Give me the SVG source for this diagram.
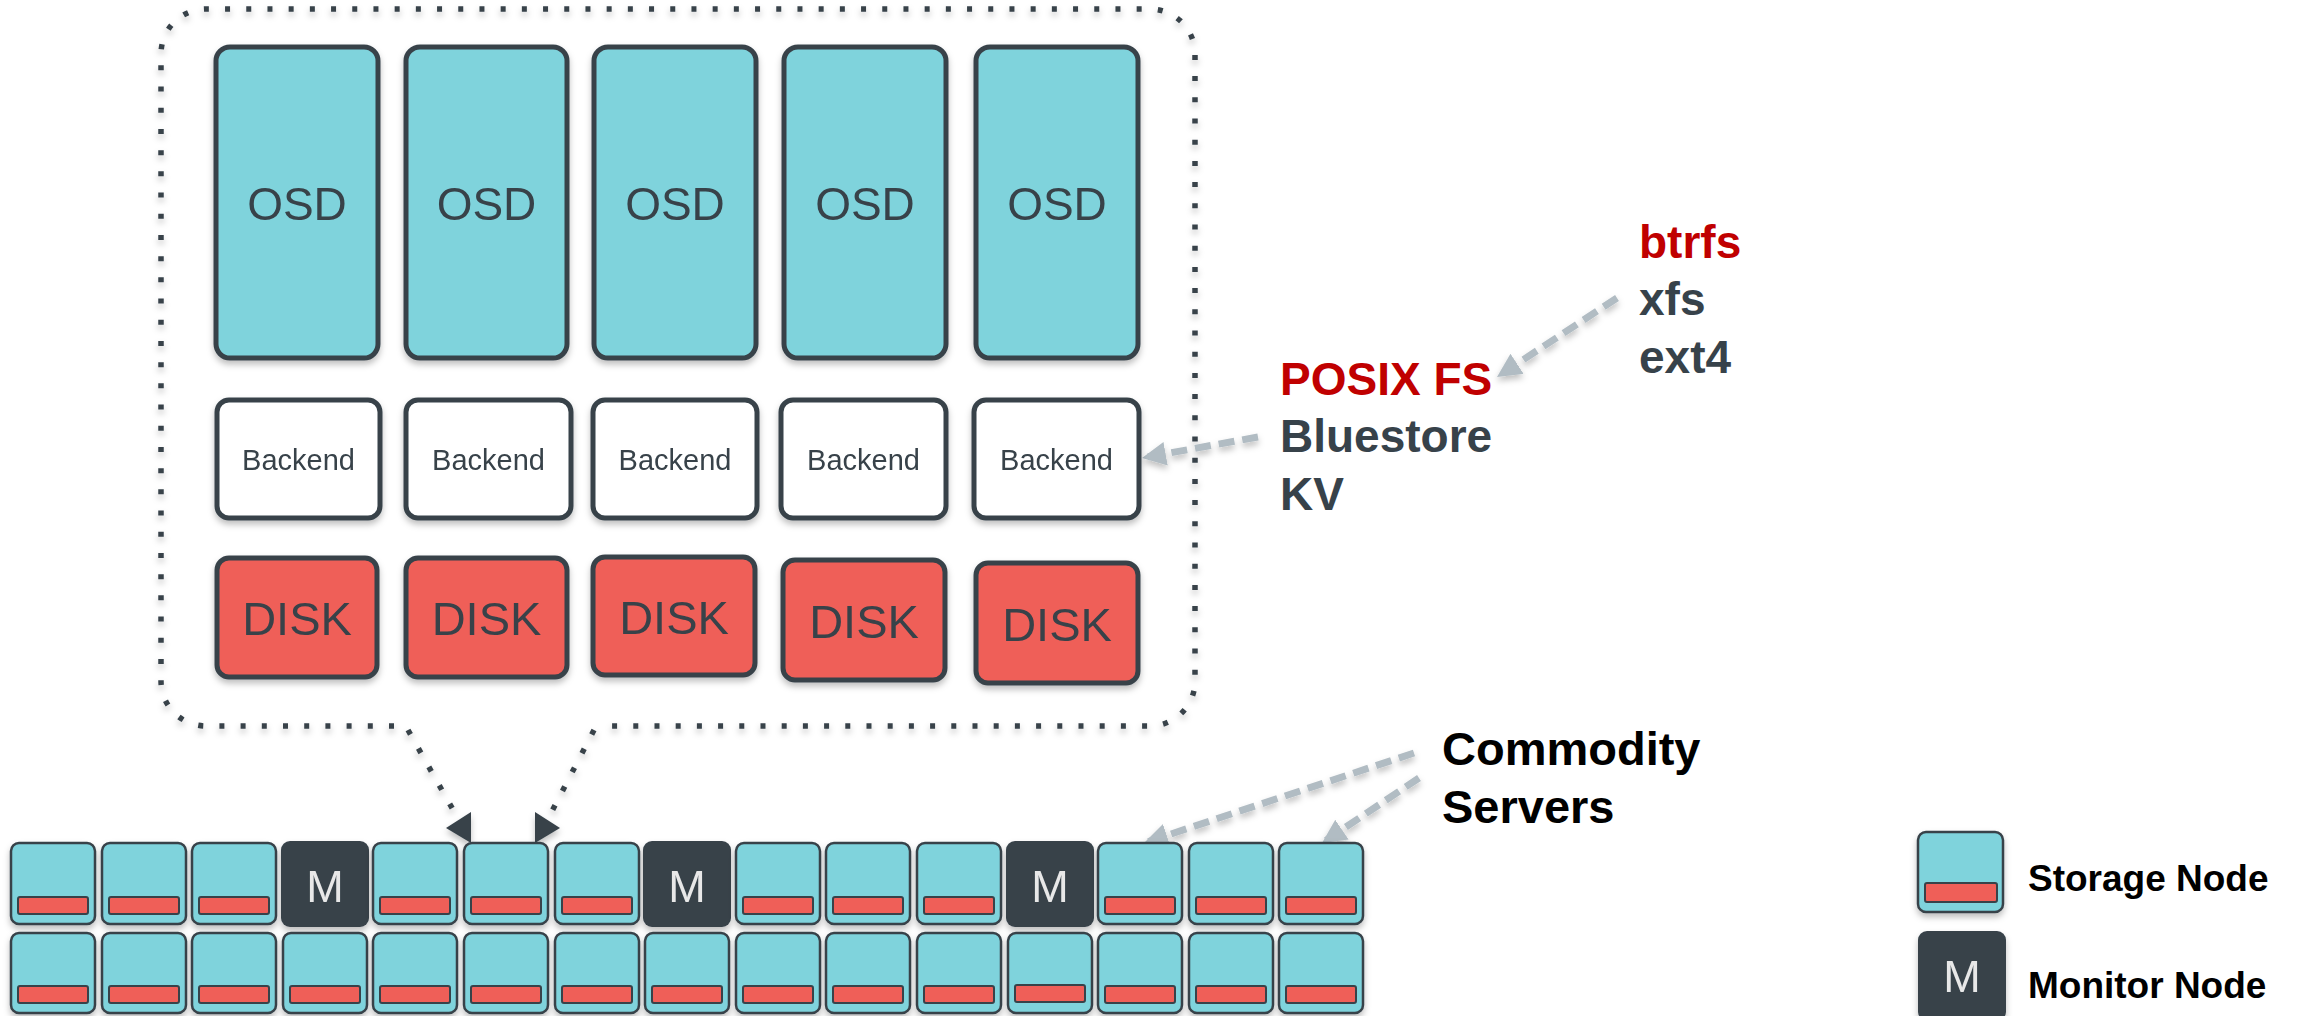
<svg xmlns="http://www.w3.org/2000/svg" width="2300" height="1016" viewBox="0 0 2300 1016">
  <defs>
    <filter id="shadow" x="-10%" y="-10%" width="120%" height="130%">
      <feDropShadow dx="0" dy="4" stdDeviation="3" flood-color="#000" flood-opacity="0.25"/>
    </filter>
    <marker id="grayHead" markerUnits="userSpaceOnUse" markerWidth="26" markerHeight="26" refX="24" refY="12" orient="auto">
      <path d="M0,0 L24,12 L0,24 z" fill="#B1BCC3"/>
    </marker>
    <style>
      .osd { fill: #7FD3DC; stroke: #37424A; stroke-width: 5; }
      .backend { fill: #FFFFFF; stroke: #37424A; stroke-width: 5; }
      .disk { fill: #EF5E58; stroke: #37424A; stroke-width: 5; }
      .lbl { font-family: "Liberation Sans", Arial, sans-serif; fill: #37424A; text-anchor: middle; }
      .osd-t { font-size: 46px; }
      .be-t { font-size: 29px; }
      .disk-t { font-size: 47px; }
      .sn { fill: #7FD3DC; stroke: #37424A; stroke-width: 2.5; }
      .bar { fill: #EF5E58; stroke: #37424A; stroke-width: 2; }
      .mn { fill: #37424A; }
      .m-t { font-family: "Liberation Sans", Arial, sans-serif; font-size: 45px; fill: #E8E8E8; text-anchor: middle; }
      .bold { font-family: "Liberation Sans", Arial, sans-serif; font-weight: bold; }
      .red { fill: #C00000; }
      .dark { fill: #37424A; }
      .black { fill: #000000; }
      .dotted { fill: none; stroke: #37424A; stroke-width: 5.5; stroke-dasharray: 5 16.2; }
      .gray-arrow { fill: none; stroke: #B1BCC3; stroke-width: 7; stroke-dasharray: 16 8; marker-end: url(#grayHead); }
    </style>
  </defs>

  <rect width="2300" height="1016" fill="#FFFFFF"/>

  <!-- callout outline around the OSD stack, open at the bottom -->
  <g id="connectors" filter="url(#shadow)">
    <path class="dotted" d="M394,726 L206,726 A45,45 0 0 1 161,681 L161,54 A45,45 0 0 1 206,9 L1150,9 A45,45 0 0 1 1195,54 L1195,681 A45,45 0 0 1 1150,726 L606,726"/>
    <path class="dotted" d="M408,730 L456,815"/>
    <path class="dotted" d="M594,730 L550,815"/>
    <polygon points="446,828 471,812 471,843" fill="#37424A"/>
    <polygon points="535,812 560,828 535,843" fill="#37424A"/>

    <line class="gray-arrow" x1="1617" y1="298" x2="1497" y2="377"/>
    <line class="gray-arrow" x1="1258" y1="437" x2="1142" y2="458"/>
    <line class="gray-arrow" x1="1414" y1="753" x2="1144" y2="843"/>
    <line class="gray-arrow" x1="1419" y1="778" x2="1322" y2="843"/>
  </g>

  <!-- OSD daemons -->
  <g id="osd1" filter="url(#shadow)"><rect class="osd" x="216" y="47" width="162" height="311" rx="14"/><text class="lbl osd-t" x="297" y="220">OSD</text></g>
  <g id="osd2" filter="url(#shadow)"><rect class="osd" x="406" y="47" width="161" height="311" rx="14"/><text class="lbl osd-t" x="486.5" y="220">OSD</text></g>
  <g id="osd3" filter="url(#shadow)"><rect class="osd" x="594" y="47" width="162" height="311" rx="14"/><text class="lbl osd-t" x="675" y="220">OSD</text></g>
  <g id="osd4" filter="url(#shadow)"><rect class="osd" x="784" y="47" width="162" height="311" rx="14"/><text class="lbl osd-t" x="865" y="220">OSD</text></g>
  <g id="osd5" filter="url(#shadow)"><rect class="osd" x="976" y="47" width="162" height="311" rx="14"/><text class="lbl osd-t" x="1057" y="220">OSD</text></g>

  <!-- storage backends -->
  <g id="backend1" filter="url(#shadow)"><rect class="backend" x="217" y="400" width="163" height="118" rx="12"/><text class="lbl be-t" x="298.5" y="470">Backend</text></g>
  <g id="backend2" filter="url(#shadow)"><rect class="backend" x="406" y="400" width="165" height="118" rx="12"/><text class="lbl be-t" x="488.5" y="470">Backend</text></g>
  <g id="backend3" filter="url(#shadow)"><rect class="backend" x="593" y="400" width="164" height="118" rx="12"/><text class="lbl be-t" x="675" y="470">Backend</text></g>
  <g id="backend4" filter="url(#shadow)"><rect class="backend" x="781" y="400" width="165" height="118" rx="12"/><text class="lbl be-t" x="863.5" y="470">Backend</text></g>
  <g id="backend5" filter="url(#shadow)"><rect class="backend" x="974" y="400" width="165" height="118" rx="12"/><text class="lbl be-t" x="1056.5" y="470">Backend</text></g>

  <!-- disks -->
  <g id="disk1" filter="url(#shadow)"><rect class="disk" x="217" y="558" width="160" height="119" rx="12"/><text class="lbl disk-t" x="297" y="635">DISK</text></g>
  <g id="disk2" filter="url(#shadow)"><rect class="disk" x="406" y="558" width="161" height="119" rx="12"/><text class="lbl disk-t" x="486.5" y="635">DISK</text></g>
  <g id="disk3" filter="url(#shadow)"><rect class="disk" x="593" y="557" width="162" height="118" rx="12"/><text class="lbl disk-t" x="674" y="634">DISK</text></g>
  <g id="disk4" filter="url(#shadow)"><rect class="disk" x="783" y="560" width="162" height="120" rx="12"/><text class="lbl disk-t" x="864" y="638">DISK</text></g>
  <g id="disk5" filter="url(#shadow)"><rect class="disk" x="976" y="563" width="162" height="120" rx="12"/><text class="lbl disk-t" x="1057" y="641">DISK</text></g>

  <!-- backend choices -->
  <g id="fs-options">
    <text class="bold red" x="1639" y="258" font-size="46">btrfs</text>
    <text class="bold dark" x="1639" y="315" font-size="46">xfs</text>
    <text class="bold dark" x="1639" y="373" font-size="46">ext4</text>
  </g>
  <g id="backend-options">
    <text class="bold red" x="1280" y="395" font-size="46">POSIX FS</text>
    <text class="bold dark" x="1280" y="452" font-size="46">Bluestore</text>
    <text class="bold dark" x="1280" y="510" font-size="46">KV</text>
  </g>
  <g id="commodity-label">
    <text class="bold black" x="1442" y="765" font-size="47">Commodity</text>
    <text class="bold black" x="1442" y="823" font-size="47">Servers</text>
  </g>

  <!-- server rack: row 1 -->
  <g id="r1n1" filter="url(#shadow)"><rect class="sn" x="11" y="843" width="84" height="81" rx="8"/><rect class="bar" x="18" y="897" width="70" height="17" rx="2"/></g>
  <g id="r1n2" filter="url(#shadow)"><rect class="sn" x="102" y="843" width="84" height="81" rx="8"/><rect class="bar" x="109" y="897" width="70" height="17" rx="2"/></g>
  <g id="r1n3" filter="url(#shadow)"><rect class="sn" x="192" y="843" width="84" height="81" rx="8"/><rect class="bar" x="199" y="897" width="70" height="17" rx="2"/></g>
  <g id="r1m1" filter="url(#shadow)"><rect class="mn" x="281" y="841" width="88" height="86" rx="9"/><text class="m-t" x="325" y="902">M</text></g>
  <g id="r1n5" filter="url(#shadow)"><rect class="sn" x="373" y="843" width="84" height="81" rx="8"/><rect class="bar" x="380" y="897" width="70" height="17" rx="2"/></g>
  <g id="r1n6" filter="url(#shadow)"><rect class="sn" x="464" y="843" width="84" height="81" rx="8"/><rect class="bar" x="471" y="897" width="70" height="17" rx="2"/></g>
  <g id="r1n7" filter="url(#shadow)"><rect class="sn" x="555" y="843" width="84" height="81" rx="8"/><rect class="bar" x="562" y="897" width="70" height="17" rx="2"/></g>
  <g id="r1m2" filter="url(#shadow)"><rect class="mn" x="643" y="841" width="88" height="86" rx="9"/><text class="m-t" x="687" y="902">M</text></g>
  <g id="r1n9" filter="url(#shadow)"><rect class="sn" x="736" y="843" width="84" height="81" rx="8"/><rect class="bar" x="743" y="897" width="70" height="17" rx="2"/></g>
  <g id="r1n10" filter="url(#shadow)"><rect class="sn" x="826" y="843" width="84" height="81" rx="8"/><rect class="bar" x="833" y="897" width="70" height="17" rx="2"/></g>
  <g id="r1n11" filter="url(#shadow)"><rect class="sn" x="917" y="843" width="84" height="81" rx="8"/><rect class="bar" x="924" y="897" width="70" height="17" rx="2"/></g>
  <g id="r1m3" filter="url(#shadow)"><rect class="mn" x="1006" y="841" width="88" height="86" rx="9"/><text class="m-t" x="1050" y="902">M</text></g>
  <g id="r1n13" filter="url(#shadow)"><rect class="sn" x="1098" y="843" width="84" height="81" rx="8"/><rect class="bar" x="1105" y="897" width="70" height="17" rx="2"/></g>
  <g id="r1n14" filter="url(#shadow)"><rect class="sn" x="1189" y="843" width="84" height="81" rx="8"/><rect class="bar" x="1196" y="897" width="70" height="17" rx="2"/></g>
  <g id="r1n15" filter="url(#shadow)"><rect class="sn" x="1279" y="843" width="84" height="81" rx="8"/><rect class="bar" x="1286" y="897" width="70" height="17" rx="2"/></g>

  <!-- server rack: row 2 -->
  <g id="r2n1" filter="url(#shadow)"><rect class="sn" x="11" y="933" width="84" height="80" rx="8"/><rect class="bar" x="18" y="986" width="70" height="17" rx="2"/></g>
  <g id="r2n2" filter="url(#shadow)"><rect class="sn" x="102" y="933" width="84" height="80" rx="8"/><rect class="bar" x="109" y="986" width="70" height="17" rx="2"/></g>
  <g id="r2n3" filter="url(#shadow)"><rect class="sn" x="192" y="933" width="84" height="80" rx="8"/><rect class="bar" x="199" y="986" width="70" height="17" rx="2"/></g>
  <g id="r2n4" filter="url(#shadow)"><rect class="sn" x="283" y="933" width="84" height="80" rx="8"/><rect class="bar" x="290" y="986" width="70" height="17" rx="2"/></g>
  <g id="r2n5" filter="url(#shadow)"><rect class="sn" x="373" y="933" width="84" height="80" rx="8"/><rect class="bar" x="380" y="986" width="70" height="17" rx="2"/></g>
  <g id="r2n6" filter="url(#shadow)"><rect class="sn" x="464" y="933" width="84" height="80" rx="8"/><rect class="bar" x="471" y="986" width="70" height="17" rx="2"/></g>
  <g id="r2n7" filter="url(#shadow)"><rect class="sn" x="555" y="933" width="84" height="80" rx="8"/><rect class="bar" x="562" y="986" width="70" height="17" rx="2"/></g>
  <g id="r2n8" filter="url(#shadow)"><rect class="sn" x="645" y="933" width="84" height="80" rx="8"/><rect class="bar" x="652" y="986" width="70" height="17" rx="2"/></g>
  <g id="r2n9" filter="url(#shadow)"><rect class="sn" x="736" y="933" width="84" height="80" rx="8"/><rect class="bar" x="743" y="986" width="70" height="17" rx="2"/></g>
  <g id="r2n10" filter="url(#shadow)"><rect class="sn" x="826" y="933" width="84" height="80" rx="8"/><rect class="bar" x="833" y="986" width="70" height="17" rx="2"/></g>
  <g id="r2n11" filter="url(#shadow)"><rect class="sn" x="917" y="933" width="84" height="80" rx="8"/><rect class="bar" x="924" y="986" width="70" height="17" rx="2"/></g>
  <g id="r2n12" filter="url(#shadow)"><rect class="sn" x="1008" y="933" width="84" height="80" rx="8"/><rect class="bar" x="1015" y="985" width="70" height="17" rx="2"/></g>
  <g id="r2n13" filter="url(#shadow)"><rect class="sn" x="1098" y="933" width="84" height="80" rx="8"/><rect class="bar" x="1105" y="986" width="70" height="17" rx="2"/></g>
  <g id="r2n14" filter="url(#shadow)"><rect class="sn" x="1189" y="933" width="84" height="80" rx="8"/><rect class="bar" x="1196" y="986" width="70" height="17" rx="2"/></g>
  <g id="r2n15" filter="url(#shadow)"><rect class="sn" x="1279" y="933" width="84" height="80" rx="8"/><rect class="bar" x="1286" y="986" width="70" height="17" rx="2"/></g>

  <!-- legend -->
  <g id="legend-storage">
    <g filter="url(#shadow)"><rect class="sn" x="1918" y="832" width="85" height="80" rx="8"/><rect class="bar" x="1925" y="883" width="72" height="19" rx="2"/></g>
    <text class="bold black" x="2028" y="891" font-size="37">Storage Node</text>
  </g>
  <g id="legend-monitor">
    <g filter="url(#shadow)"><rect class="mn" x="1918" y="931" width="88" height="90" rx="9"/><text class="m-t" x="1962" y="992">M</text></g>
    <text class="bold black" x="2028" y="998" font-size="37">Monitor Node</text>
  </g>
</svg>
